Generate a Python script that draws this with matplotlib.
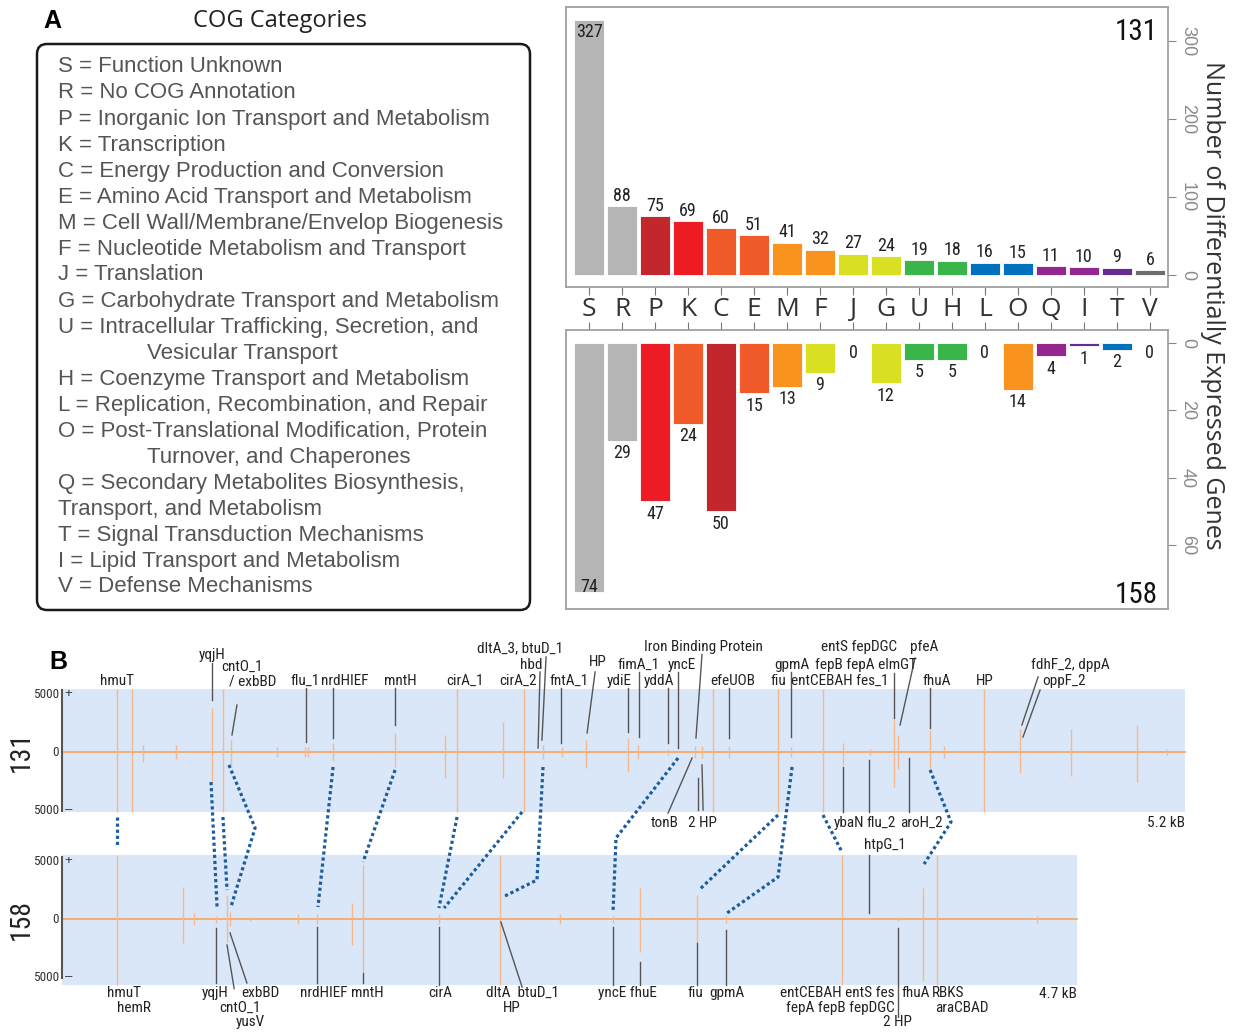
import matplotlib.pyplot as plt
from matplotlib import font_manager
from matplotlib.patches import FancyBboxPatch, Rectangle

W, H = 1233, 1034

# ---- panel A data ----
cats = ['S', 'R', 'P', 'K', 'C', 'E', 'M', 'F', 'J', 'G', 'U', 'H', 'L', 'O', 'Q', 'I', 'T', 'V']
genes_131 = [327, 88, 75, 69, 60, 51, 41, 32, 27, 24, 19, 18, 16, 15, 11, 10, 9, 6]
genes_158 = [74, 29, 47, 24, 50, 15, 13, 9, 0, 12, 5, 5, 0, 14, 4, 1, 2, 0]

gray, dkred, red, ored = '#b5b5b5', '#c1272d', '#ed1c24', '#f15a29'
orange, yellow, green, blue = '#f7931e', '#d9e021', '#39b54a', '#0071bc'
purple, violet, dkgray = '#93278f', '#662d91', '#6d6d6d'
colors_131 = [gray, gray, dkred, red, ored, ored, orange, orange, yellow, yellow,
              green, green, blue, blue, purple, purple, violet, dkgray]
colors_158 = [gray, gray, red, ored, dkred, ored, orange, yellow, yellow, yellow,
              green, green, blue, orange, purple, violet, blue, dkgray]

legend_lines = [
    "S = Function Unknown",
    "R = No COG Annotation",
    "P = Inorganic Ion Transport and Metabolism",
    "K = Transcription",
    "C = Energy Production and Conversion",
    "E = Amino Acid Transport and Metabolism",
    "M = Cell Wall/Membrane/Envelop Biogenesis",
    "F = Nucleotide Metabolism and Transport",
    "J = Translation",
    "G = Carbohydrate Transport and Metabolism",
    "U = Intracellular Trafficking, Secretion, and",
    "Vesicular Transport",
    "H = Coenzyme Transport and Metabolism",
    "L = Replication, Recombination, and Repair",
    "O = Post-Translational Modification, Protein",
    "Turnover, and Chaperones",
    "Q = Secondary Metabolites Biosynthesis,",
    "Transport, and Metabolism",
    "T = Signal Transduction Mechanisms",
    "I = Lipid Transport and Metabolism",
    "V = Defense Mechanisms",
]
indented = [11, 15]

# ---- panel B data (position in kB, coverage in thousands of reads) ----
spk131_pos = [0.255, 0.324, 0.375, 0.528, 0.694, 0.744, 0.782, 0.995, 1.125, 1.139,
              1.255, 1.542, 1.773, 1.829, 2.042, 2.139, 2.227, 2.315, 2.426, 2.620,
              2.667, 2.806, 2.931, 2.963, 3.014, 3.088, 3.315, 3.375, 3.523, 3.616,
              3.741, 3.852, 3.870, 4.019, 4.083, 4.269, 4.435, 4.671, 4.977, 5.116]
spk131_up = [5.4, 5.4, 0.6, 0.6, 3.8, 5.4, 1.0, 0.4, 0.4, 0.4,
             0.8, 1.6, 1.5, 5.4, 2.6, 5.4, 0.6, 0.4, 1.0, 1.2,
             0.6, 0.3, 0.5, 0.5, 5.4, 0.5, 5.4, 0.4, 5.4, 0.8,
             0.3, 2.8, 1.5, 1.9, 0.5, 5.4, 2.0, 2.0, 2.3, 0.3]
spk131_down = [5.2, 5.2, 0.9, 0.6, 2.5, 5.2, 1.1, 0.4, 0.4, 0.4,
               0.8, 1.3, 2.2, 5.2, 2.2, 5.2, 0.6, 0.4, 1.4, 1.7,
               0.6, 0.3, 0.5, 0.5, 5.2, 0.5, 5.2, 0.4, 5.2, 1.1,
               0.3, 3.0, 1.5, 1.6, 0.5, 5.2, 1.8, 2.1, 2.6, 0.3]

spk158_pos = [0.255, 0.560, 0.611, 0.713, 0.764, 0.778, 0.870, 1.093, 1.181, 1.343,
              1.394, 1.745, 2.028, 2.306, 2.551, 2.676, 2.940, 3.074, 3.611, 3.870,
              3.986, 4.051, 4.514]
spk158_up = [5.5, 2.8, 0.5, 0.3, 2.1, 0.6, 0.2, 0.4, 0.4, 1.4,
             4.7, 0.4, 5.5, 0.4, 0.3, 2.7, 2.1, 0.3, 5.5, 0.2,
             2.7, 5.5, 0.3]
spk158_down = [5.7, 2.1, 0.5, 0.3, 2.0, 0.6, 0.2, 0.4, 0.4, 2.2,
               4.6, 0.4, 5.7, 0.4, 0.3, 2.8, 2.1, 0.3, 5.7, 0.2,
               5.3, 5.7, 0.3]

gene_labels = [
    ("hmuT", 0.255, 6.12), ("yqjH", 0.694, 8.36), ("cntO_1", 0.833, 7.33),
    ("/ exbBD", 0.884, 6.12), ("flu_1", 1.125, 6.12), ("nrdHIEF", 1.310, 6.12),
    ("mntH", 1.565, 6.12), ("cirA_1", 1.866, 6.12), ("cirA_2", 2.111, 6.12),
    ("dltA_3, btuD_1", 2.122, 8.97), ("hbd", 2.171, 7.50), ("fntA_1", 2.347, 6.12),
    ("HP", 2.481, 7.76), ("ydiE", 2.579, 6.12), ("fimA_1", 2.671, 7.50),
    ("yddA", 2.764, 6.12), ("yncE", 2.870, 7.50), ("Iron Binding Protein", 2.968, 9.05),
    ("efeUOB", 3.106, 6.12), ("fiu", 3.315, 6.12), ("gpmA", 3.380, 7.50),
    ("entCEBAH fes_1", 3.602, 6.12), ("fepB fepA elmGT", 3.722, 7.50),
    ("entS fepDGC", 3.690, 9.05), ("pfeA", 3.991, 9.05), ("fhuA", 4.051, 6.12),
    ("HP", 4.273, 6.12), ("fdhF_2, dppA", 4.667, 7.50), ("oppF_2", 4.639, 6.12),
    ("tonB", 2.789, -6.12), ("2 HP", 2.963, -6.12), ("ybaN", 3.644, -6.12),
    ("flu_2", 3.792, -6.12), ("aroH_2", 3.977, -6.12),
    ("htpG_1", 3.810, -8.02),
    ("hmuT", 0.285, -20.78), ("hemR", 0.331, -22.07), ("yqjH", 0.711, -20.78),
    ("exbBD", 0.917, -20.78), ("cntO_1", 0.826, -22.07), ("yusV", 0.870, -23.28),
    ("nrdHIEF", 1.211, -20.78), ("mntH", 1.414, -20.78), ("cirA", 1.750, -20.78),
    ("dltA  btuD_1", 2.130, -20.78), ("HP", 2.081, -22.07), ("yncE fhuE", 2.618, -20.78),
    ("fiu", 2.933, -20.78), ("gpmA", 3.076, -20.78), ("entCEBAH entS fes", 3.588, -20.78),
    ("fepA fepB fepDGC", 3.602, -22.07), ("2 HP", 3.870, -23.28), ("fhuA", 3.951, -20.78),
    ("RBKS", 4.102, -20.78), ("araCBAD", 4.167, -22.07),
]

leaders = [
    (0.694, 7.7, 0.694, 4.48), (0.810, 4.05, 0.787, 1.47), (1.130, 5.52, 1.130, 0.86),
    (1.255, 5.52, 1.255, 1.21), (1.542, 5.52, 1.542, 2.33), (2.241, 8.19, 2.222, 1.03),
    (2.213, 6.90, 2.204, 0.34), (2.310, 5.52, 2.310, 0.78), (2.468, 6.90, 2.431, 1.64),
    (2.620, 5.52, 2.620, 1.72), (2.671, 6.90, 2.671, 1.29), (2.806, 5.52, 2.806, 0.78),
    (2.852, 6.90, 2.852, 0.34), (2.963, 8.40, 2.935, 1.21), (3.088, 5.52, 3.088, 1.21),
    (3.375, 6.90, 3.375, 1.29), (3.852, 6.81, 3.852, 2.93), (3.949, 8.10, 3.880, 2.33),
    (4.019, 5.52, 4.019, 2.07), (4.519, 6.47, 4.444, 2.33), (4.528, 5.34, 4.449, 1.29),
    (2.806, -5.26, 2.917, -0.52), (2.944, -2.24, 2.944, -5.00), (2.963, -1.12, 2.968, -5.00),
    (3.616, -1.29, 3.616, -5.17), (3.736, -0.69, 3.736, -5.17), (3.921, -0.52, 3.921, -5.17),
    (3.736, -8.88, 3.736, -13.88),
    (0.713, -15.17, 0.713, -19.91), (0.778, -15.60, 0.856, -19.91), (0.764, -16.64, 0.797, -20.4),
    (1.181, -15.09, 1.181, -19.91), (1.394, -19.05, 1.394, -19.91), (1.745, -15.09, 1.745, -20.09),
    (2.032, -14.66, 2.130, -20.26), (2.551, -15.09, 2.551, -20.09), (2.676, -18.10, 2.676, -20.09),
    (2.940, -16.47, 2.940, -20.09), (3.074, -15.34, 3.074, -20.09), (3.870, -15.17, 3.870, -22.84),
]

links = [
    [(0.255, -5.60), (0.255, -8.19)],
    [(0.690, -2.59), (0.718, -13.45)],
    [(0.745, -5.60), (0.764, -11.90)],
    [(0.773, -1.12), (0.894, -6.55), (0.782, -13.36)],
    [(1.255, -1.29), (1.185, -13.36)],
    [(1.542, -1.55), (1.394, -9.48)],
    [(1.829, -5.60), (1.745, -13.45)],
    [(2.130, -5.17), (1.769, -13.45)],
    [(2.227, -1.29), (2.199, -11.03), (2.051, -12.41)],
    [(2.852, -0.52), (2.565, -7.41), (2.551, -13.79)],
    [(3.315, -5.43), (2.949, -11.90)],
    [(3.380, -1.29), (3.315, -10.78), (3.079, -13.88)],
    [(3.523, -5.43), (3.611, -8.62)],
    [(4.019, -1.55), (4.116, -6.03), (3.991, -9.66)],
]

avail = {f.name for f in font_manager.fontManager.ttflist}
narrow = next((n for n in ['Liberation Sans Narrow', 'Roboto Condensed', 'Open Sans Condensed']
               if n in avail), 'DejaVu Sans')
plt.rcParams['font.family'] = ['Liberation Sans', 'DejaVu Sans']


def px_rect(l, t, r, b):
    return [l / W, 1 - b / H, (r - l) / W, (b - t) / H]


fig = plt.figure(figsize=(W / 100, H / 100), dpi=100)

# overlay in pixel coordinates for legend/titles
ov = fig.add_axes([0, 0, 1, 1])
ov.set_xlim(0, W)
ov.set_ylim(H, 0)
ov.axis('off')
ov.text(52, 21, 'A', fontsize=18, fontweight='bold', ha='center', va='center')
ov.text(280, 21, 'COG Categories', fontsize=17, ha='center', va='center', color='#222',
        family=['Open Sans', 'DejaVu Sans'])
ov.add_patch(FancyBboxPatch((37, 44), 493, 566, boxstyle='round,pad=0,rounding_size=10',
                            fc='none', ec='#1a1a1a', lw=1.8))
for i, line in enumerate(legend_lines):
    xl = 147 if i in indented else 58
    ov.text(xl, 67 + 26.0 * i, line, fontsize=16, color='#555', ha='left', va='center')
ov.text(1212, 305, 'Number of Differentially Expressed Genes', rotation=-90, fontsize=18,
        ha='center', va='center', color='#333', family=['Open Sans', 'DejaVu Sans'])
ov.text(58, 662, 'B', fontsize=18, fontweight='bold', ha='center', va='center')

# ---- upper bars (131) ----
x = list(range(len(cats)))
ax1 = fig.add_axes(px_rect(566, 7, 1168, 287))
ax1.bar(x, genes_131, width=0.89, color=colors_131, edgecolor='white', linewidth=0.6)
ax1.set_xlim(-0.70, 17.55)
ax1.set_ylim(-15.4, 343.6)
ax1.set_xticks(x)
ax1.set_xticklabels(cats, fontsize=19, color='#333', family=['Open Sans', 'DejaVu Sans'])
ax1.tick_params(axis='x', direction='out', length=6, color='#777', pad=1)
ax1.yaxis.tick_right()
ax1.set_yticks([0, 100, 200, 300])
ax1.set_yticklabels(['0', '100', '200', '300'], rotation=-90, va='center',
                    fontsize=13, color='#8a8a8a')
ax1.tick_params(axis='y', direction='out', length=6, color='#888', pad=2)
for i, v in enumerate(genes_131):
    if i == 0:
        ax1.text(i, 311, str(v), ha='center', va='center', fontsize=13, family=narrow, color='#222')
    else:
        ax1.text(i, v + 2, str(v), ha='center', va='bottom', fontsize=13, family=narrow, color='#222')
ax1.text(0.983, 0.962, '131', transform=ax1.transAxes, ha='right', va='top', fontsize=21,
         family=narrow, color='#111')

# ---- lower bars (158) ----
ax2 = fig.add_axes(px_rect(566, 330, 1168, 609))
ax2.bar(x, genes_158, width=0.89, color=colors_158, edgecolor='white', linewidth=0.6)
ax2.set_xlim(-0.70, 17.55)
ax2.set_ylim(79, -3.8)
ax2.xaxis.tick_top()
ax2.set_xticks(x)
ax2.set_xticklabels([])
ax2.tick_params(axis='x', direction='out', length=6, color='#777')
ax2.yaxis.tick_right()
ax2.set_yticks([0, 20, 40, 60])
ax2.set_yticklabels(['0', '20', '40', '60'], rotation=-90, va='center', fontsize=13, color='#8a8a8a')
ax2.tick_params(axis='y', direction='out', length=6, color='#888', pad=2)
for i, v in enumerate(genes_158):
    if i == 0:
        ax2.text(i, 72.6, str(v), ha='center', va='center', fontsize=13, family=narrow, color='#222')
    elif v == 0:
        ax2.text(i, 3.1, '0', ha='center', va='center', fontsize=13, family=narrow, color='#222')
    else:
        ax2.text(i, v + 1, str(v), ha='center', va='top', fontsize=13, family=narrow, color='#222')
ax2.text(0.983, 0.022, '158', transform=ax2.transAxes, ha='right', va='baseline', fontsize=21,
         family=narrow, color='#111')

for ax in (ax1, ax2):
    for s in ax.spines.values():
        s.set_color('#a0a0a0')
        s.set_linewidth(1.3)

# ---- panel B ----
axb = fig.add_axes(px_rect(0, 630, W, H))
axb.set_xlim(-62 / 216, (W - 62) / 216)
axb.set_ylim((752 - H) / 11.6, (752 - 630) / 11.6)
axb.axis('off')

tracks = [
    ('131', 0.0, 5.2, 5.43, -5.17, spk131_pos, spk131_up, spk131_down, '5.2 kB', -6.12),
    ('158', -14.4, 4.7, 5.52, -5.69, spk158_pos, spk158_up, spk158_down, '4.7 kB', -6.46),
]
for name, y0, length, top, bot, pos, up, down, klab, ky in tracks:
    axb.add_patch(Rectangle((0, y0 + bot), length, top - bot, fc='#d9e7f8', ec='none', zorder=0))
    axb.plot([0, length], [y0, y0], color='#f7a868', lw=1.3, zorder=2)
    axb.vlines(pos, [y0 - d for d in down], [y0 + u for u in up], color='#f6b88c', lw=1.0, zorder=2)
    axb.plot([0, 0], [y0 - 5.1, y0 + 5.35], color='#555', lw=1.5)
    for yy, s, sign in [(5, '5000', '+'), (-5, '5000', '\u2013')]:
        axb.text(-0.015, y0 + yy, s, ha='right', va='center', fontsize=9.5, family=narrow, color='#333')
        axb.text(0.03, y0 + yy, sign, ha='center', va='center', fontsize=9.5, color='#333')
    axb.text(-0.015, y0, '0', ha='right', va='center', fontsize=9.5, family=narrow, color='#333')
    axb.text(-0.19, y0, name, rotation=90, ha='center', va='center', fontsize=20,
             family=narrow, color='#222')
    axb.text(length, y0 + ky, klab, ha='right', va='center', fontsize=11, family=narrow, color='#222')

for x1, y1, x2, y2 in leaders:
    axb.plot([x1, x2], [y1, y2], color='#555', lw=1, zorder=3)
for t, gx, gy in gene_labels:
    axb.text(gx, gy, t, ha='center', va='center', fontsize=11, family=narrow, color='#222')
for pts in links:
    xs, ys = zip(*pts)
    axb.plot(xs, ys, color='#1c5d9e', lw=2.3, ls=(0, (1, 0.9)), zorder=4)

fig.savefig('out.png', dpi=100)
